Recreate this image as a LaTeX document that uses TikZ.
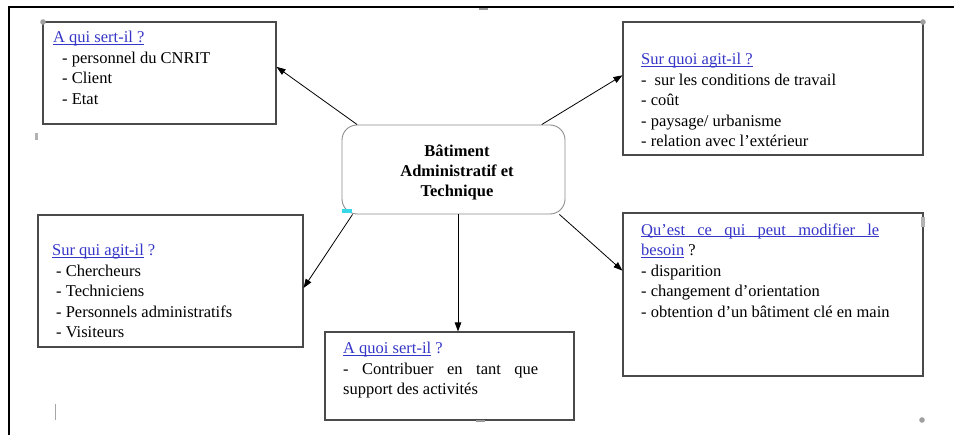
\documentclass[tikz,border=0pt]{standalone}
\usepackage{fontspec}
\setmainfont{Liberation Serif}
\usepackage{tikz}
\usetikzlibrary{arrows.meta, positioning}
\definecolor{mBlue}{HTML}{3535C8}
\definecolor{mFrame}{HTML}{4A4A4A}
\definecolor{mRound}{HTML}{8C8C8C}
\definecolor{mCyan}{HTML}{38D8E8}
\newsavebox{\qbox}
\newcommand{\qhead}[1]{\textcolor{mBlue}{\sbox{\qbox}{#1}%
  \rlap{\rule[-2pt]{\wd\qbox}{0.7pt}}\usebox{\qbox}}}

\begin{document}
\begin{tikzpicture}[x=1pt, y=-1pt,
    every node/.style={font=\fontsize{16.5}{20.5}\selectfont},
    box/.style={draw=mFrame, line width=1.1pt, inner sep=0pt},
    hub/.style={draw=mRound, line width=0.9pt, rounded corners=15pt, inner sep=0pt},
    hubtxt/.style={inner sep=0pt, align=center, font=\fontsize{16.5}{20}\selectfont\bfseries},
    txt/.style={inner sep=0pt, align=left, anchor=north west},
    arr/.style={-{Triangle[length=9pt,width=6.5pt]}, line width=0.8pt}]
    \useasboundingbox (0,0) rectangle (954,435);
    % page frame
    \draw[line width=2pt] (9,435) -- (9,7) -- (954,7);

    % boxes
    \node[hub, minimum width=223, minimum height=89] (centre) at (453.5,169.5) {};
    \node[hubtxt] (centretxt) at (457,172) {Bâtiment\\ Administratif et\\ Technique};
    \node[box, minimum width=233, minimum height=102] (serv) at (159.5,73) {};
    \node[box, minimum width=300, minimum height=133] (quoi) at (773,88.5) {};
    \node[box, minimum width=265, minimum height=132] (qui) at (170.5,281) {};
    \node[box, minimum width=249, minimum height=88] (role) at (449.5,376) {};
    \node[box, minimum width=300, minimum height=163] (modif) at (773,294.5) {};

    % texts
    \node[txt] (servtxt) at (53,31.3) {\qhead{A qui sert-il ?}\\
      \hspace*{9pt}- personnel du CNRIT\\ \hspace*{9pt}- Client\\ \hspace*{9pt}- Etat};
    \node[txt] (quoitxt) at (641,53.3) {\qhead{Sur quoi agit-il ?}\\
      -\hspace*{8pt}sur les conditions de travail\\ - coût\\ - paysage/ urbanisme\\
      - relation avec l'extérieur};
    \node[txt] (quitxt) at (52,244.3) {\qhead{Sur qui agit-il} \textcolor{mBlue}{?}\\
      \hspace*{4pt}- Chercheurs\\ \hspace*{4pt}- Techniciens\\
      \hspace*{4pt}- Personnels administratifs\\ \hspace*{4pt}- Visiteurs};
    \node[txt] (roletxt) at (343,342.3) {\qhead{A quoi sert-il} \textcolor{mBlue}{?}\\
      \makebox[195pt][s]{- Contribuer en tant que}\\ support des activités};
    \node[txt] (modiftxt) at (641,223.3)
      {\qhead{\makebox[238pt][s]{Qu'est ce qui peut modifier le}}\\
      \qhead{besoin} ?\\ - disparition\\ - changement d'orientation\\
      - obtention d'un bâtiment clé en main};

    % connectors
    \draw[arr] (centre.155) -- (serv.3.5);
    \draw[arr] (centre.27) -- (quoi.175.2);
    \draw[arr] (centre.204) -- (qui.357.4);
    \draw[arr] ([xshift=4.5pt]centre.south) -- ([xshift=8.5pt]role.north);
    \draw[arr] (centre.337) -- (modif.171.5);

    % editor handles
    \foreach \p in {(43,22),(923,22),(922,420)}
      \fill[gray!75] \p circle (2.8pt);
    \fill[gray!60] (35,133) rectangle (38,140);
    \fill[gray!60] (921,217) rectangle (925,227);
    \draw[gray!80, line width=1.5pt] (479,9) -- (488,9);
    \draw[gray!80, line width=1.5pt] (476,421) -- (485,421);
    \draw[gray!70, line width=0.8pt] (55,404) -- (55,420);
    \fill[mCyan] (342,209) rectangle (352,213);
\end{tikzpicture}
\end{document}
